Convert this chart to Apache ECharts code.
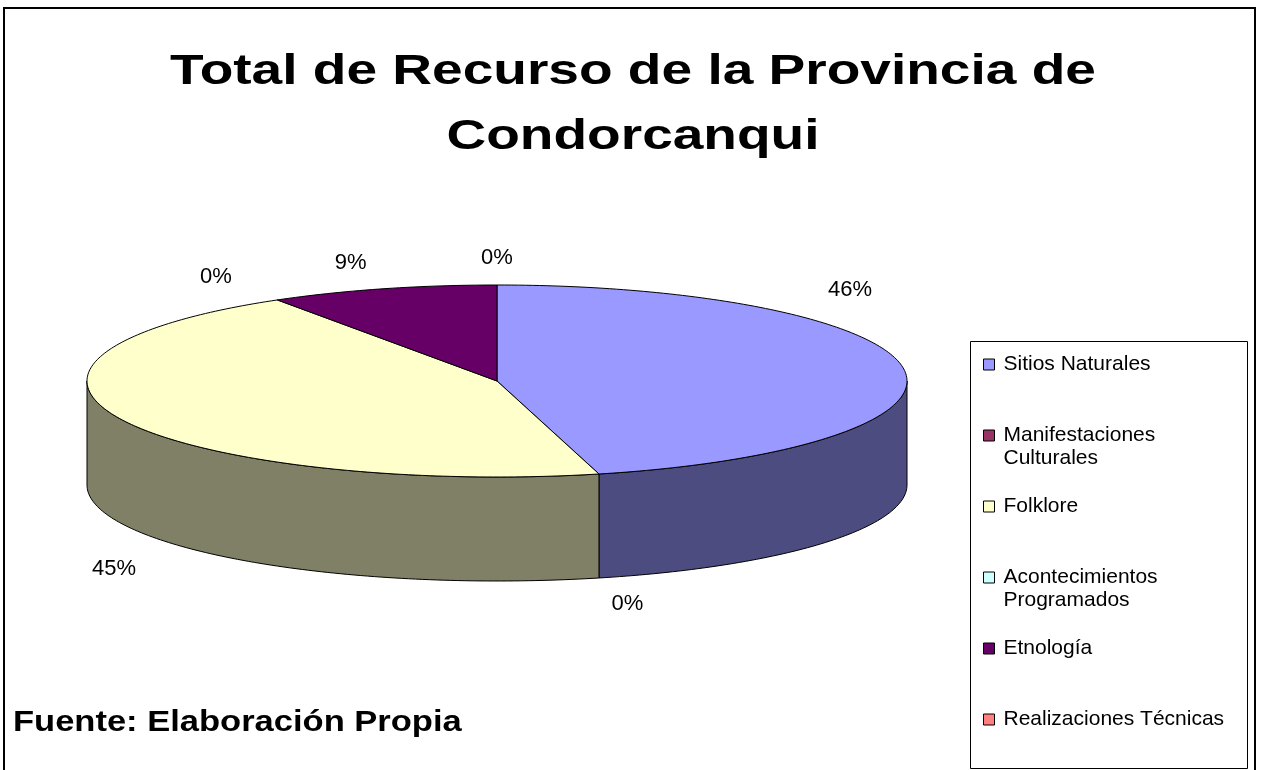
<!DOCTYPE html>
<html>
<head>
<meta charset="utf-8">
<title>Total de Recurso de la Provincia de Condorcanqui</title>
<script src="https://cdn.jsdelivr.net/npm/echarts@6/dist/echarts.min.js"></script>
<style>
  html, body { margin: 0; padding: 0; background: #fff; }
  #chart { width: 1261px; height: 770px; }
</style>
</head>
<body>
<div id="chart"></div>
<script>
var categories = ['Sitios Naturales', 'Manifestaciones Culturales', 'Folklore',
                  'Acontecimientos Programados', 'Etnología', 'Realizaciones Técnicas'];
var values = [46, 0, 45, 0, 9, 0];
var topColors = ['#9999FF', '#993366', '#FFFFCC', '#CCFFFF', '#660066', '#FF8080'];
var sideColors = ['#4C4C80', '#4D1A33', '#808066', '#668080', '#330033', '#804040'];

var font = "'Liberation Sans', Arial, sans-serif";
// geometria de la torta 3D (elipse + altura)
var pie = { cx: 497, cy: 381, rx: 410, ry: 96, depth: 104 };
var labelK = 1.28, labelMinX = 114, labelMaxX = 850;

var total = values.reduce(function (s, v) { return s + v; }, 0);
var starts = [];
var acc = 0;
values.forEach(function (v) { starts.push(acc); acc += v / total * 360; });

function pt(t, dy) {
    var r = t * Math.PI / 180;
    return [pie.cx + pie.rx * Math.sin(r), pie.cy - pie.ry * Math.cos(r) + (dy || 0)];
}
function arc(a, b, dy) {
    var pts = [];
    var n = Math.max(2, Math.ceil(Math.abs(b - a)));
    for (var i = 0; i <= n; i++) pts.push(pt(a + (b - a) * i / n, dy));
    return pts;
}
function labelPos(t) {
    var r = t * Math.PI / 180;
    var s = Math.sin(r), c = Math.cos(r);
    var lx = pie.cx + labelK * pie.rx * s;
    if (lx < labelMinX || lx > labelMaxX) {
        lx = Math.min(labelMaxX, Math.max(labelMinX, lx));
        s = (lx - pie.cx) / (labelK * pie.rx);
        c = (c < 0 ? -1 : 1) * Math.sqrt(1 - s * s);
    }
    var ly = pie.cy - labelK * pie.ry * c;
    if (c < 0) ly += pie.depth;
    return [lx, ly];
}

function renderSlice(i) {
    return function (params, api) {
        var v = api.value(0);
        var a = starts[i], b = a + v / total * 360;
        var children = [];
        if (b > a) {
            children.push({
                type: 'polygon', z2: 10,
                shape: { points: [[pie.cx, pie.cy]].concat(arc(a, b)) },
                style: { fill: topColors[i], stroke: '#000', lineWidth: 1 }
            });
            var wa = Math.max(a, 90), wb = Math.min(b, 270);
            if (wb > wa) {
                children.push({
                    type: 'polygon', z2: 1,
                    shape: { points: arc(wa, wb).concat(arc(wb, wa, pie.depth)) },
                    style: { fill: sideColors[i], stroke: '#000', lineWidth: 1 }
                });
            }
        }
        var p = labelPos((a + b) / 2);
        children.push({
            type: 'text', z2: 20, x: p[0], y: p[1],
            style: {
                text: Math.round(v / total * 100) + '%',
                fill: '#000', fontSize: 22, fontFamily: font,
                align: 'center', verticalAlign: 'middle'
            }
        });
        return { type: 'group', children: children };
    };
}

// nombres largos en dos lineas; la primera linea queda a la altura del cuadrito
function legendText(name) {
    if (name.length > 24) return '\n' + name.replace(' ', '\n');
    return '\n' + name + '\n';
}

var chart = echarts.init(document.getElementById('chart'));
var option = {
    backgroundColor: '#fff',
    animation: false,
    graphic: {
        elements: [
            { type: 'rect', shape: { x: 4, y: 8, width: 1251, height: 800 },
              style: { fill: 'none', stroke: '#000', lineWidth: 2 } },
            { type: 'rect', shape: { x: 970.5, y: 341.5, width: 277, height: 427 },
              style: { fill: 'none', stroke: '#000', lineWidth: 1 } },
            { type: 'text', x: 633, y: 105, scaleX: 1.28,
              style: { text: 'Total de Recurso de la Provincia de\nCondorcanqui',
                       fill: '#000', fontSize: 43, fontWeight: 'bold', fontFamily: font,
                       lineHeight: 65, align: 'center', verticalAlign: 'middle' } },
            { type: 'text', x: 13, y: 723, scaleX: 1.19,
              style: { text: 'Fuente: Elaboración Propia',
                       fill: '#000', fontSize: 29, fontWeight: 'bold', fontFamily: font,
                       align: 'left', verticalAlign: 'middle' } }
        ]
    },
    legend: {
        orient: 'vertical',
        left: 983,
        top: 330,
        padding: 0,
        itemGap: 2,
        itemWidth: 11,
        itemHeight: 11,
        icon: 'rect',
        selectedMode: false,
        itemStyle: { borderColor: '#000', borderWidth: 1 },
        formatter: legendText,
        textStyle: { fontSize: 21, lineHeight: 23, fontFamily: font, color: '#000',
                     padding: [0, 0, 0, 4] },
        data: categories
    },
    series: categories.map(function (name, i) {
        return {
            type: 'custom',
            name: name,
            coordinateSystem: 'none',
            silent: true,
            itemStyle: { color: topColors[i] },
            renderItem: renderSlice(i),
            data: [values[i]]
        };
    })
};
chart.setOption(option);
</script>
</body>
</html>
